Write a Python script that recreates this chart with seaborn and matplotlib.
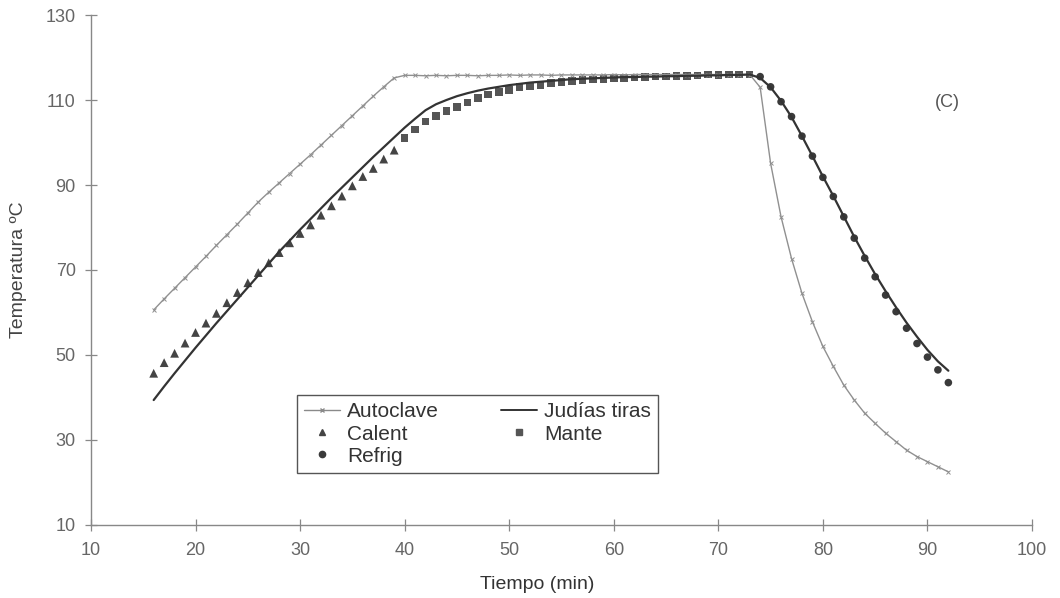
import matplotlib
matplotlib.use("Agg")
import matplotlib.pyplot as plt
import seaborn as sns
import pandas as pd
from matplotlib.lines import Line2D

# ---- data ----
time_all = list(range(16, 93))
autoclave = [60.6, 63.2, 65.7, 68.2, 70.7, 73.2, 75.8, 78.3, 80.8, 83.4,
             86.0, 88.3, 90.5, 92.7, 94.9, 97.1, 99.4, 101.7, 104.0, 106.3,
             108.6, 110.9, 113.1, 115.2, 115.8, 115.8, 115.7, 115.8, 115.7, 115.8,
             115.8, 115.7, 115.8, 115.8, 115.9, 115.8, 115.9, 115.9, 115.8, 115.9,
             115.9, 115.9, 115.9, 115.9, 116.0, 115.9, 116.0, 116.0, 116.0, 116.0,
             116.0, 116.0, 116.0, 116.0, 116.0, 116.0, 116.0, 116.0,
             113.0, 95.1, 82.5, 72.7, 64.5, 57.8, 52.0, 47.3, 42.9, 39.4,
             36.3, 33.9, 31.6, 29.6, 27.6, 26.1, 24.9, 23.7, 22.5]
judias = [39.4, 42.6, 45.7, 48.7, 51.7, 54.6, 57.5, 60.3, 63.1, 65.9,
          68.7, 71.5, 74.3, 76.9, 79.5, 82.0, 84.5, 87.0, 89.4, 91.8,
          94.2, 96.6, 98.9, 101.2, 103.5, 105.6, 107.6, 109.0, 110.0, 110.9,
          111.6, 112.2, 112.7, 113.1, 113.5, 113.8, 114.1, 114.3, 114.5, 114.7,
          114.9, 115.0, 115.1, 115.2, 115.3, 115.4, 115.4, 115.5, 115.5, 115.6,
          115.6, 115.7, 115.7, 115.8, 115.8, 115.9, 115.9, 116.0,
          115.2, 113.0, 109.8, 106.0, 101.5, 96.8, 92.0, 87.4, 82.6, 77.8,
          73.3, 69.0, 65.0, 61.2, 57.6, 54.3, 51.2, 48.5, 46.3]

time_calent = list(range(16, 40))
calent = [45.7, 48.2, 50.4, 52.8, 55.3, 57.5, 59.8, 62.3, 64.7, 67.0,
          69.4, 71.7, 74.1, 76.4, 78.6, 80.6, 82.9, 85.1, 87.4, 89.8,
          92.0, 93.9, 96.1, 98.2]

time_mante = list(range(40, 74))
mante = [101.0, 103.1, 104.9, 106.2, 107.4, 108.4, 109.4, 110.5, 111.3, 111.9,
         112.4, 113.0, 113.3, 113.5, 114.0, 114.2, 114.5, 114.7, 114.8, 115.0,
         115.1, 115.2, 115.3, 115.4, 115.5, 115.5, 115.6, 115.7, 115.8, 116.0,
         115.9, 116.0, 116.0, 116.0]

time_refrig = list(range(74, 93))
refrig = [115.5, 113.1, 109.6, 106.1, 101.5, 96.8, 91.8, 87.3, 82.5, 77.5,
          72.8, 68.4, 64.1, 60.2, 56.3, 52.7, 49.5, 46.5, 43.5]

x_ticks = list(range(10, 101, 10))
y_ticks = list(range(10, 131, 20))

# ---- plot ----
sns.set_style("white")
plt.rcParams['font.family'] = ['Liberation Sans', 'DejaVu Sans']

fig = plt.figure(figsize=(10.6, 5.98), dpi=100)
ax = fig.add_axes([0.0858, 0.1221, 0.8878, 0.8528])

df_line = pd.DataFrame({"t": time_all, "auto": autoclave, "jud": judias})

sns.lineplot(data=df_line, x="t", y="auto", ax=ax, color="#909090", lw=1.0,
             marker="x", markersize=3.5, markeredgewidth=0.7, markeredgecolor="#909090")
sns.lineplot(data=df_line, x="t", y="jud", ax=ax, color="#333333", lw=1.6)

sns.scatterplot(x=time_calent, y=calent, ax=ax, marker="^", s=40, color="#444444",
                edgecolor="none")
sns.scatterplot(x=time_mante, y=mante, ax=ax, marker="s", s=30, color="#555555",
                edgecolor="none")
sns.scatterplot(x=time_refrig, y=refrig, ax=ax, marker="o", s=30, color="#3a3a3a",
                edgecolor="none")

ax.set_xlim(10, 100)
ax.set_ylim(10, 130)
ax.set_xticks(x_ticks)
ax.set_yticks(y_ticks)
for s in ["top", "right"]:
    ax.spines[s].set_visible(False)
for s in ["left", "bottom"]:
    ax.spines[s].set_color("#888888")
    ax.spines[s].set_linewidth(1.0)
ax.tick_params(axis="both", direction="inout", length=8, width=0.9, color="#888888",
               labelsize=13, labelcolor="#666666", left=True, bottom=True)
ax.tick_params(axis="y", pad=7)
ax.tick_params(axis="x", pad=8)

ax.set_xlabel("Tiempo (min)", fontsize=14, color="#333333")
ax.xaxis.set_label_coords(0.474, -0.1)
ax.set_ylabel("Temperatura ºC", fontsize=14, color="#444444")
ax.yaxis.set_label_coords(-0.068, 0.5)

ax.text(0.897, 0.829, "(C)", transform=ax.transAxes, fontsize=13, color="#555555",
        va="center")

handles = [
    Line2D([], [], color="#8a8a8a", lw=1.0, marker="x", markersize=3.5),
    Line2D([], [], color="#444444", lw=0, marker="^", markersize=5),
    Line2D([], [], color="#3a3a3a", lw=0, marker="o", markersize=4.5),
    Line2D([], [], color="#333333", lw=1.4),
    Line2D([], [], color="#555555", lw=0, marker="s", markersize=4.5),
]
labels = ["Autoclave", "Calent", "Refrig", "Judías tiras", "Mante"]
leg = ax.legend(handles, labels, ncol=2, loc="lower left",
                bbox_to_anchor=(0.219, 0.102), borderaxespad=0,
                frameon=True, fancybox=False, framealpha=1, edgecolor="#555555",
                fontsize=15, handlelength=1.7, handletextpad=0.35,
                columnspacing=3.0, labelspacing=0.15, borderpad=0.35)
leg.get_frame().set_linewidth(1.0)
for t in leg.get_texts():
    t.set_color("#333333")

fig.savefig("out.png", dpi=100)
